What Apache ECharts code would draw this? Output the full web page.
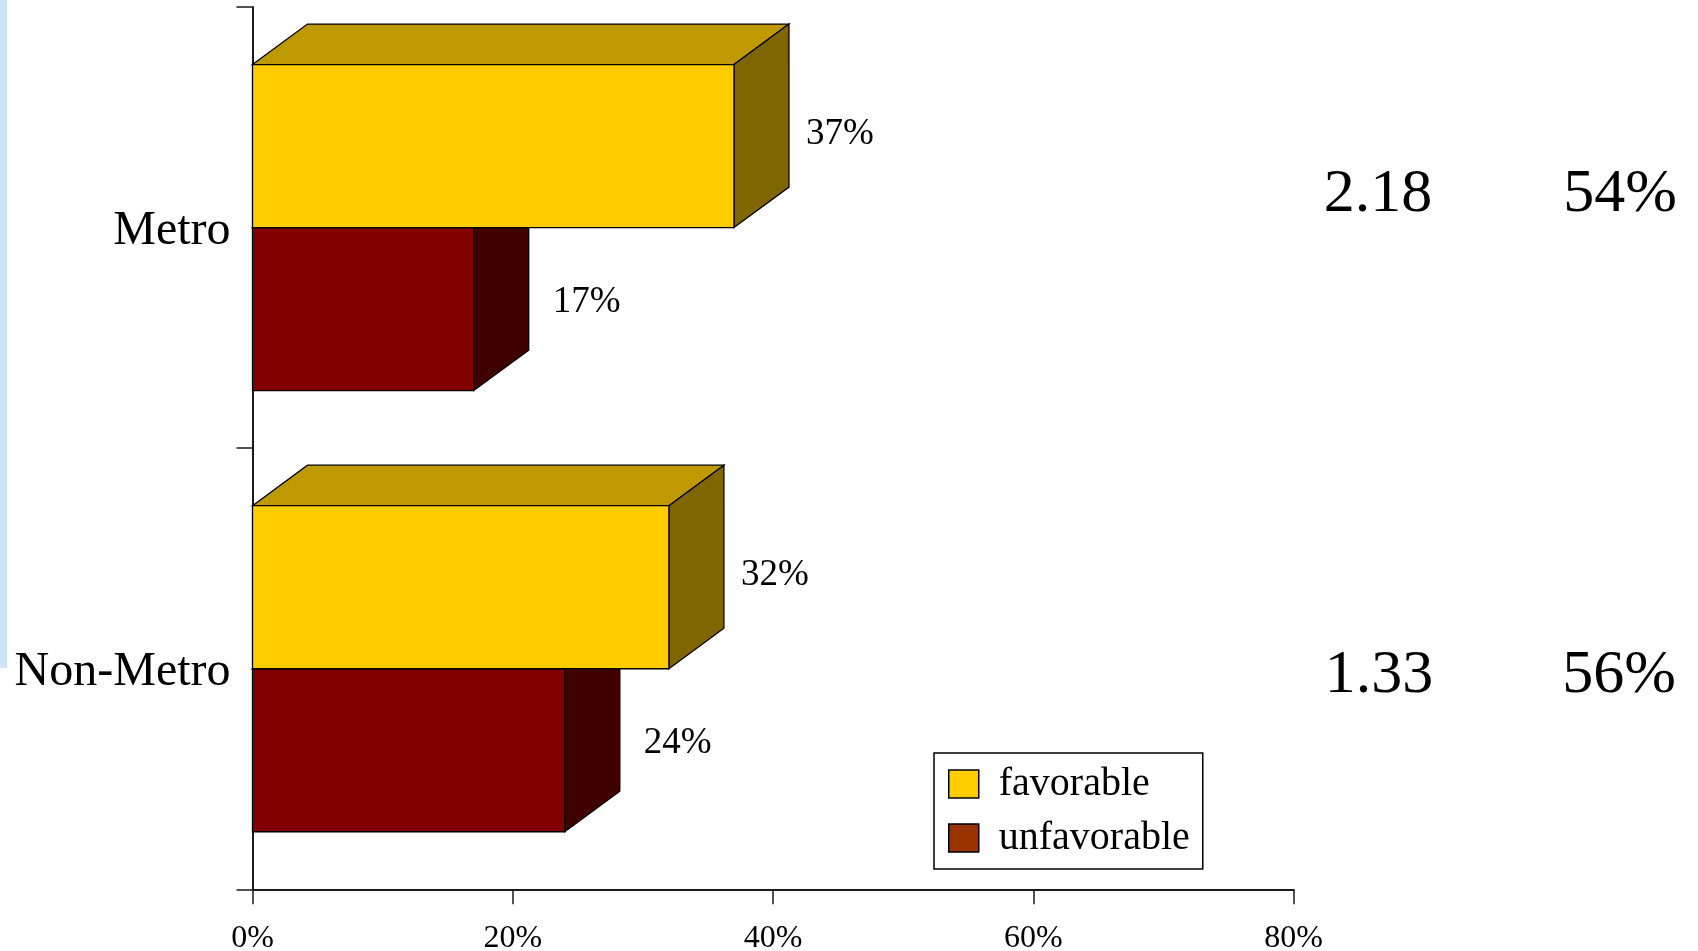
<!DOCTYPE html>
<html>
<head>
<meta charset="utf-8">
<script src="https://cdn.jsdelivr.net/npm/echarts@6/dist/echarts.min.js"></script>
<style>
  html, body { margin: 0; padding: 0; background: #fff; }
  #chart { width: 1698px; height: 951px; position: relative; }
  #strip { position: absolute; left: 0; top: 0; width: 7px; height: 668px; background: #cfe3f6; z-index: 2; }
</style>
</head>
<body>
<div id="strip"></div>
<div id="chart"></div>
<script>
// Survey results by area type
const categories = ['Metro', 'Non-Metro'];
const favorable = [37, 32];
const unfavorable = [17, 24];
const ratios = ['2.18', '1.33'];
const totals = ['54%', '56%'];
const xTicks = [0, 20, 40, 60, 80];

const SERIF = '"Liberation Serif", "Times New Roman", serif';
const DEPTH_X = 55, DEPTH_Y = 40.5;   // oblique depth of the boxes
const BAR_FRACTION = 0.3695;          // front face height as share of a category band

// Colour sets: front, top, side
const palette = {
  favorable:   { front: '#FFCC00', top: '#BF9900', side: '#806600', legend: '#FFCC00' },
  unfavorable: { front: '#800000', top: '#600000', side: '#400000', legend: '#993300' }
};

// Draws one box: slot 0 sits above the category centre, slot 1 below it
function boxRenderer(slot, colors, labelDx, labelDy) {
  return function (params, api) {
    const value = api.value(0);
    const cat = api.value(1);
    const base = api.coord([0, cat]);
    const end = api.coord([value, cat]);
    const h = api.size([0, 1])[1] * BAR_FRACTION;
    const y0 = slot === 0 ? base[1] - h : base[1];
    const x0 = base[0], x1 = end[0];
    const edge = { stroke: '#000', lineWidth: 1.3 };
    return {
      type: 'group',
      children: [
        { type: 'polygon', shape: { points: [[x0, y0], [x0 + DEPTH_X, y0 - DEPTH_Y], [x1 + DEPTH_X, y0 - DEPTH_Y], [x1, y0]] },
          style: Object.assign({ fill: colors.top }, edge) },
        { type: 'polygon', shape: { points: [[x1, y0], [x1 + DEPTH_X, y0 - DEPTH_Y], [x1 + DEPTH_X, y0 + h - DEPTH_Y], [x1, y0 + h]] },
          style: Object.assign({ fill: colors.side }, edge) },
        { type: 'rect', shape: { x: x0, y: y0, width: x1 - x0, height: h },
          style: Object.assign({ fill: colors.front }, edge) },
        { type: 'text', x: x1 + labelDx, y: y0 + h / 2 + labelDy,
          style: { text: value + '%', fill: '#000', font: '37px ' + SERIF, verticalAlign: 'middle', align: 'left' } }
      ]
    };
  };
}

const chart = echarts.init(document.getElementById('chart'), null, { renderer: 'canvas' });

const bigText = (x, y, text) => ({
  type: 'text', x: x, y: y,
  style: { text: text, font: '62px ' + SERIF, fill: '#000', align: 'center', verticalAlign: 'middle' }
});

const option = {
  backgroundColor: '#fff',
  animation: false,
  grid: { left: 252.5, right: 404.5, top: 7, bottom: 61.7, containLabel: false, outerBoundsMode: 'none' },
  xAxis: {
    type: 'value',
    min: xTicks[0],
    max: xTicks[xTicks.length - 1],
    interval: xTicks[1] - xTicks[0],
    splitLine: { show: false },
    axisLine: { show: true, lineStyle: { color: '#1a1a1a', width: 2 } },
    axisTick: { show: true, length: 15, lineStyle: { color: '#1a1a1a', width: 1.5 } },
    axisLabel: { formatter: '{value}%', fontFamily: SERIF, fontSize: 32, color: '#000', margin: 33 }
  },
  yAxis: {
    type: 'category',
    data: categories,
    inverse: true,
    axisLine: { show: true, lineStyle: { color: '#1a1a1a', width: 2 } },
    axisTick: { show: true, length: 16, lineStyle: { color: '#1a1a1a', width: 1.5 } },
    axisLabel: {
      formatter: '{c|{value}}',
      margin: 22,
      rich: { c: { fontFamily: SERIF, fontSize: 48, color: '#000', padding: [8, 0, 0, 0] } }
    }
  },
  legend: {
    orient: 'vertical',
    left: 934,
    top: 753,
    data: [
      { name: 'favorable', itemStyle: { color: palette.favorable.legend } },
      { name: 'unfavorable', itemStyle: { color: palette.unfavorable.legend } }
    ],
    icon: 'rect',
    itemWidth: 30,
    itemHeight: 28,
    itemGap: 14,
    itemStyle: { borderColor: '#000', borderWidth: 1.5 },
    textStyle: { fontFamily: SERIF, fontSize: 40, color: '#000', lineHeight: 40, padding: [0, 0, 0, 15] },
    borderColor: '#000',
    borderWidth: 1.5,
    padding: [11, 13, 11, 14],
    backgroundColor: '#fff'
  },
  series: [
    {
      name: 'unfavorable',
      type: 'custom',
      clip: false,
      itemStyle: { color: palette.unfavorable.legend },
      encode: { x: 0, y: 1 },
      renderItem: boxRenderer(1, palette.unfavorable, 79, -7),
      data: unfavorable.map((v, i) => [v, i])
    },
    {
      name: 'favorable',
      type: 'custom',
      clip: false,
      itemStyle: { color: palette.favorable.legend },
      encode: { x: 0, y: 1 },
      renderItem: boxRenderer(0, palette.favorable, 72, -12),
      data: favorable.map((v, i) => [v, i])
    }
  ],
  graphic: [
    bigText(1378, 194.5, ratios[0]),
    bigText(1620, 194.5, totals[0]),
    bigText(1379, 676, ratios[1]),
    bigText(1619, 676, totals[1])
  ]
};

chart.setOption(option);
</script>
</body>
</html>
